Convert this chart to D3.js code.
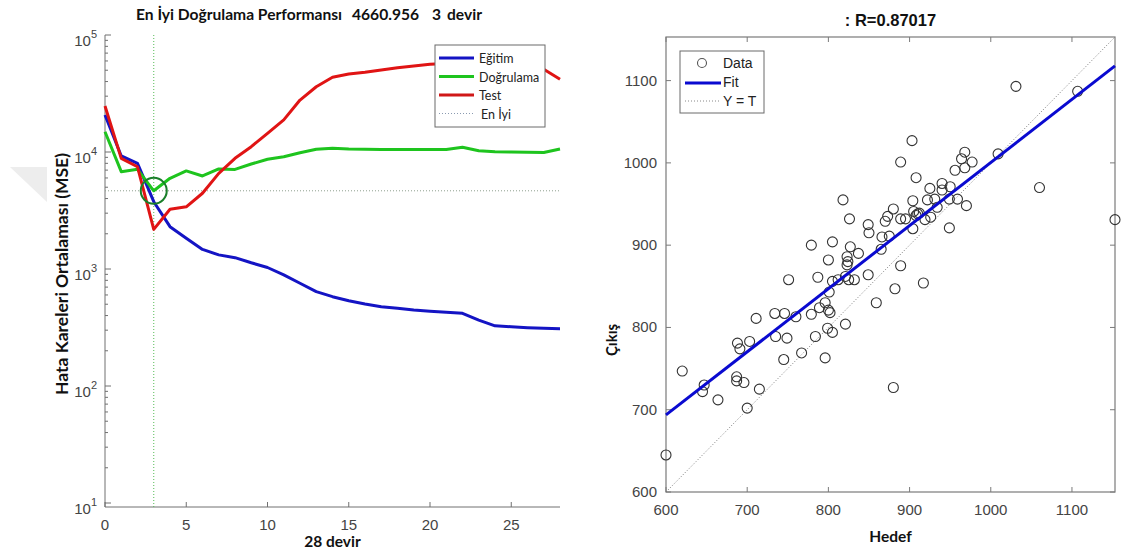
<!DOCTYPE html>
<html>
<head>
<meta charset="utf-8">
<script src="https://cdn.jsdelivr.net/npm/d3@7/dist/d3.min.js"></script>
<style>
  body { margin: 0; background: #fff; }
  svg { display: block; }
  .calibri { font-family: Lato, "Open Sans", sans-serif; }
  .arial { font-family: "Liberation Sans", Arial, sans-serif; }
</style>
</head>
<body>
<svg id="chart" width="1126" height="554"></svg>
<script>
// ---- Performance (MSE per epoch) ----
const epochs   = [0,1,2,3,4,5,6,7,8,9,10,11,12,13,14,15,16,17,18,19,20,21,22,23,24,25,26,27,28];
const trainMSE = [20700,9250,8000,3760,2300,1830,1470,1320,1250,1130,1030,890,755,640,580,535,502,476,461,446,435,426,418,366,327,321,315,311,309];
const validMSE = [14900,6790,7110,4660.956,5960,6890,6240,7160,7100,7890,8660,9120,9860,10540,10760,10600,10550,10500,10480,10480,10500,10520,10970,10250,10070,9980,9940,9920,10610];
const testMSE  = [24700,8830,7480,2180,3240,3400,4440,6570,8830,11100,14450,18800,27800,36100,43500,46400,48000,50200,52600,54400,56200,57000,57500,57500,57000,56000,54500,51000,41800];
const bestEpoch = 3;
const bestPerf = 4660.956;
const perfXTicks = [0,5,10,15,20,25];
const perfYExponents = [1,2,3,4,5];
const perfLegend = ["Eğitim","Doğrulama","Test","En İyi"];

// ---- Regression (target vs output) ----
const targets = [903,889,908,968,964,977,968,956,1009,1060,1153,940,950,925,940,818,959,949,970,904,922,931,934,826,880,873,870,889,895,905,910,908,912,919,926,949,849,850,904,866,875,805,779,827,865,800,823,823,837,889,824,
                 751,787,805,812,821,825,832,849,882,917,801,859,796,789,800,802,779,760,746,734,711,821,799,805,784,735,749,703,688,691,767,745,796,620,687,687,696,647,645,715,664,700,880,600,1031,1107];
const outputs = [1027,1001,982,1013,1005,1001,994,991,1011,970,931,975,971,969,967,955,956,956,948,954,955,956,946,932,944,935,929,932,932,941,938,936,939,931,934,921,925,915,920,910,911,904,900,898,895,882,886,876,890,875,880,
                 858,861,856,858,862,858,858,864,847,854,843,830,830,824,821,818,816,813,817,817,811,804,799,794,789,789,787,783,781,774,769,761,763,747,740,735,733,730,722,725,712,702,727,645,1093,1087];
const regTicks = [600,700,800,900,1000,1100];
const fitSlope = 0.767;
const fitIntercept = 233.5;
const rValue = "0.87017";
const regLegend = ["Data","Fit","Y = T"];

const svg = d3.select("#chart");

// faint background emblem on the left margin
svg.append("polygon")
  .attr("points", "10,167 47,167 47,202")
  .attr("fill", "#ededed");

// ================= Left panel: performance =================
const xP = d3.scaleLinear().domain([0, 28]).range([105, 560]);
const yP = d3.scaleLog().domain([10, 1e5]).range([503, 35]);
const perfBottom = 507;
const left = svg.append("g");

// axis lines
left.append("line").attr("x1", xP(0)).attr("x2", xP(28)).attr("y1", perfBottom).attr("y2", perfBottom)
  .attr("stroke", "#707070").attr("stroke-width", 1);
left.append("line").attr("x1", xP(0)).attr("x2", xP(0)).attr("y1", yP(1e5)).attr("y2", perfBottom)
  .attr("stroke", "#707070").attr("stroke-width", 1);

// x ticks (inward)
left.selectAll(".xt").data(perfXTicks).join("line")
  .attr("x1", d => xP(d)).attr("x2", d => xP(d))
  .attr("y1", perfBottom).attr("y2", perfBottom - 5)
  .attr("stroke", "#707070");
left.selectAll(".xl").data(perfXTicks).join("text")
  .attr("class", "arial")
  .attr("x", d => xP(d)).attr("y", 530)
  .attr("text-anchor", "middle")
  .attr("font-size", 15).attr("fill", "#444")
  .text(d => d);

// y ticks: majors and log minors (inward)
const minorVals = [];
for (let e = 1; e < 5; e++) for (let m = 2; m <= 9; m++) minorVals.push(m * Math.pow(10, e));
left.selectAll(".ymin").data(minorVals).join("line")
  .attr("x1", xP(0)).attr("x2", xP(0) + 3)
  .attr("y1", d => yP(d)).attr("y2", d => yP(d))
  .attr("stroke", "#707070");
left.selectAll(".ymaj").data(perfYExponents).join("line")
  .attr("x1", xP(0)).attr("x2", xP(0) + 6)
  .attr("y1", d => yP(Math.pow(10, d))).attr("y2", d => yP(Math.pow(10, d)))
  .attr("stroke", "#707070");
const ylab = left.selectAll(".yl").data(perfYExponents).join("text")
  .attr("class", "arial")
  .attr("x", 97).attr("y", d => yP(Math.pow(10, d)) + 11)
  .attr("text-anchor", "end")
  .attr("font-size", 15).attr("fill", "#444");
ylab.append("tspan").text("10");
ylab.append("tspan").attr("dy", -8).attr("font-size", 11).text(d => d);

// best epoch guides
left.append("line")
  .attr("x1", xP(bestEpoch)).attr("x2", xP(bestEpoch))
  .attr("y1", yP(1e5)).attr("y2", perfBottom)
  .attr("stroke", "#55bb55").attr("stroke-width", 1).attr("stroke-dasharray", "1,2");
left.append("line")
  .attr("x1", xP(0)).attr("x2", xP(28))
  .attr("y1", yP(bestPerf)).attr("y2", yP(bestPerf))
  .attr("stroke", "#8f9f8f").attr("stroke-width", 1).attr("stroke-dasharray", "1,2");

// series
const perfLine = d3.line().x((d, i) => xP(epochs[i])).y(d => yP(d));
const perfSeries = [
  { values: trainMSE, color: "#1414c4" },
  { values: validMSE, color: "#1ec41e" },
  { values: testMSE,  color: "#e01414" }
];
left.selectAll(".series").data(perfSeries).join("path")
  .attr("d", d => perfLine(d.values))
  .attr("fill", "none")
  .attr("stroke", d => d.color)
  .attr("stroke-width", 3)
  .attr("stroke-linejoin", "round");

// best validation marker
left.append("circle")
  .attr("cx", xP(bestEpoch)).attr("cy", yP(bestPerf)).attr("r", 13)
  .attr("fill", "none").attr("stroke", "#1a7f2a").attr("stroke-width", 2);

// legend
const lg = left.append("g").attr("transform", "translate(435,45)");
lg.append("rect").attr("width", 110).attr("height", 82)
  .attr("fill", "#fff").attr("stroke", "#6a6a6a").attr("stroke-width", 1);
const lgItems = [
  { label: perfLegend[0], color: "#1414c4", dash: null, w: 3 },
  { label: perfLegend[1], color: "#1ec41e", dash: null, w: 3 },
  { label: perfLegend[2], color: "#d01818", dash: null, w: 3 },
  { label: perfLegend[3], color: "#8a9ab0", dash: "1,2", w: 1 }
];
const lgRow = lg.selectAll(".row").data(lgItems).join("g")
  .attr("transform", (d, i) => `translate(0,${13 + i * 18.5})`);
lgRow.append("line").attr("x1", 4).attr("x2", 39).attr("y1", 0).attr("y2", 0)
  .attr("stroke", d => d.color).attr("stroke-width", d => d.w)
  .attr("stroke-dasharray", d => d.dash);
lgRow.append("text").attr("class", "calibri")
  .attr("x", (d, i) => i === 3 ? 46 : 44).attr("y", 5)
  .attr("font-size", 12.5).attr("fill", "#222")
  .text(d => d.label);

// titles
const title = left.append("text").attr("class", "calibri")
  .attr("y", 20).attr("font-size", 15.6).attr("font-weight", "bold").attr("fill", "#111");
title.append("tspan").attr("x", 136).text("En İyi Doğrulama Performansı");
title.append("tspan").attr("x", 352).text(bestPerf.toFixed(3));
title.append("tspan").attr("x", 432).text(bestEpoch);
title.append("tspan").attr("x", 447).text("devir");

left.append("text").attr("class", "calibri")
  .attr("x", (xP(0) + xP(28)) / 2).attr("y", 547)
  .attr("text-anchor", "middle").attr("font-size", 15.5).attr("font-weight", "bold").attr("fill", "#111")
  .text(`${epochs[epochs.length - 1]} devir`);

left.append("text").attr("class", "calibri")
  .attr("transform", "translate(68,274) rotate(-90)")
  .attr("text-anchor", "middle").attr("font-size", 17.5).attr("font-weight", "bold").attr("fill", "#111")
  .text("Hata Kareleri Ortalaması (MSE)");

// ================= Right panel: regression =================
const xR = d3.scaleLinear().domain([600, 1153]).range([666, 1115]);
const yR = d3.scaleLinear().domain([600, 1153]).range([492, 37]);
const right = svg.append("g");

right.append("rect")
  .attr("x", xR(600)).attr("y", yR(1153))
  .attr("width", xR(1153) - xR(600)).attr("height", yR(600) - yR(1153))
  .attr("fill", "#fff").attr("stroke", "#7a7a7a").attr("stroke-width", 1.2);

// ticks on all four sides
const tk = 5;
right.selectAll(".bt").data(regTicks).join("line")
  .attr("x1", d => xR(d)).attr("x2", d => xR(d)).attr("y1", yR(600)).attr("y2", yR(600) - tk).attr("stroke", "#7a7a7a");
right.selectAll(".tt").data(regTicks).join("line")
  .attr("x1", d => xR(d)).attr("x2", d => xR(d)).attr("y1", yR(1153)).attr("y2", yR(1153) + tk).attr("stroke", "#7a7a7a");
right.selectAll(".lt").data(regTicks).join("line")
  .attr("x1", xR(600)).attr("x2", xR(600) + tk).attr("y1", d => yR(d)).attr("y2", d => yR(d)).attr("stroke", "#7a7a7a");
right.selectAll(".rt").data(regTicks).join("line")
  .attr("x1", xR(1153)).attr("x2", xR(1153) - tk).attr("y1", d => yR(d)).attr("y2", d => yR(d)).attr("stroke", "#7a7a7a");

right.selectAll(".xl").data(regTicks).join("text").attr("class", "arial")
  .attr("x", d => xR(d)).attr("y", 515)
  .attr("text-anchor", "middle").attr("font-size", 15).attr("fill", "#444").text(d => d);
right.selectAll(".yl").data(regTicks).join("text").attr("class", "arial")
  .attr("x", 657).attr("y", d => yR(d) + 5)
  .attr("text-anchor", "end").attr("font-size", 15).attr("fill", "#444").text(d => d);

// Y = T reference
right.append("line")
  .attr("x1", xR(600)).attr("y1", yR(600)).attr("x2", xR(1153)).attr("y2", yR(1153))
  .attr("stroke", "#777").attr("stroke-width", 1).attr("stroke-dasharray", "1,2");

// data points
right.selectAll(".pt").data(targets).join("circle")
  .attr("cx", d => xR(d)).attr("cy", (d, i) => yR(outputs[i])).attr("r", 5)
  .attr("fill", "none").attr("stroke", "#333").attr("stroke-width", 1.1);

// fit line
right.append("line")
  .attr("x1", xR(600)).attr("y1", yR(fitSlope * 600 + fitIntercept))
  .attr("x2", xR(1153)).attr("y2", yR(fitSlope * 1153 + fitIntercept))
  .attr("stroke", "#0a0ad0").attr("stroke-width", 3);

// legend
const rl = right.append("g").attr("transform", "translate(680,51)");
rl.append("rect").attr("width", 84).attr("height", 62)
  .attr("fill", "#fff").attr("stroke", "#6a6a6a").attr("stroke-width", 1);
rl.append("circle").attr("cx", 22).attr("cy", 12).attr("r", 4.5)
  .attr("fill", "none").attr("stroke", "#555").attr("stroke-width", 1.1);
rl.append("line").attr("x1", 5).attr("x2", 41).attr("y1", 32).attr("y2", 32)
  .attr("stroke", "#0a0ad0").attr("stroke-width", 3);
rl.append("line").attr("x1", 5).attr("x2", 41).attr("y1", 50).attr("y2", 50)
  .attr("stroke", "#888").attr("stroke-width", 1).attr("stroke-dasharray", "1,2");
rl.selectAll("text").data(regLegend).join("text").attr("class", "arial")
  .attr("x", 43).attr("y", (d, i) => 17 + i * 19)
  .attr("font-size", 14).attr("fill", "#222").text(d => d);

// titles
right.append("text").attr("class", "arial")
  .attr("x", (xR(600) + xR(1153)) / 2).attr("y", 26)
  .attr("text-anchor", "middle").attr("font-size", 16.5).attr("font-weight", "bold").attr("fill", "#111")
  .text(`: R=${rValue}`);
right.append("text").attr("class", "calibri")
  .attr("x", (xR(600) + xR(1153)) / 2).attr("y", 542)
  .attr("text-anchor", "middle").attr("font-size", 15.5).attr("font-weight", "bold").attr("fill", "#111")
  .text("Hedef");
right.append("text").attr("class", "calibri")
  .attr("transform", "translate(617,340) rotate(-90)")
  .attr("text-anchor", "middle").attr("font-size", 15).attr("font-weight", "bold").attr("fill", "#111")
  .text("Çıkış");
</script>
</body>
</html>
